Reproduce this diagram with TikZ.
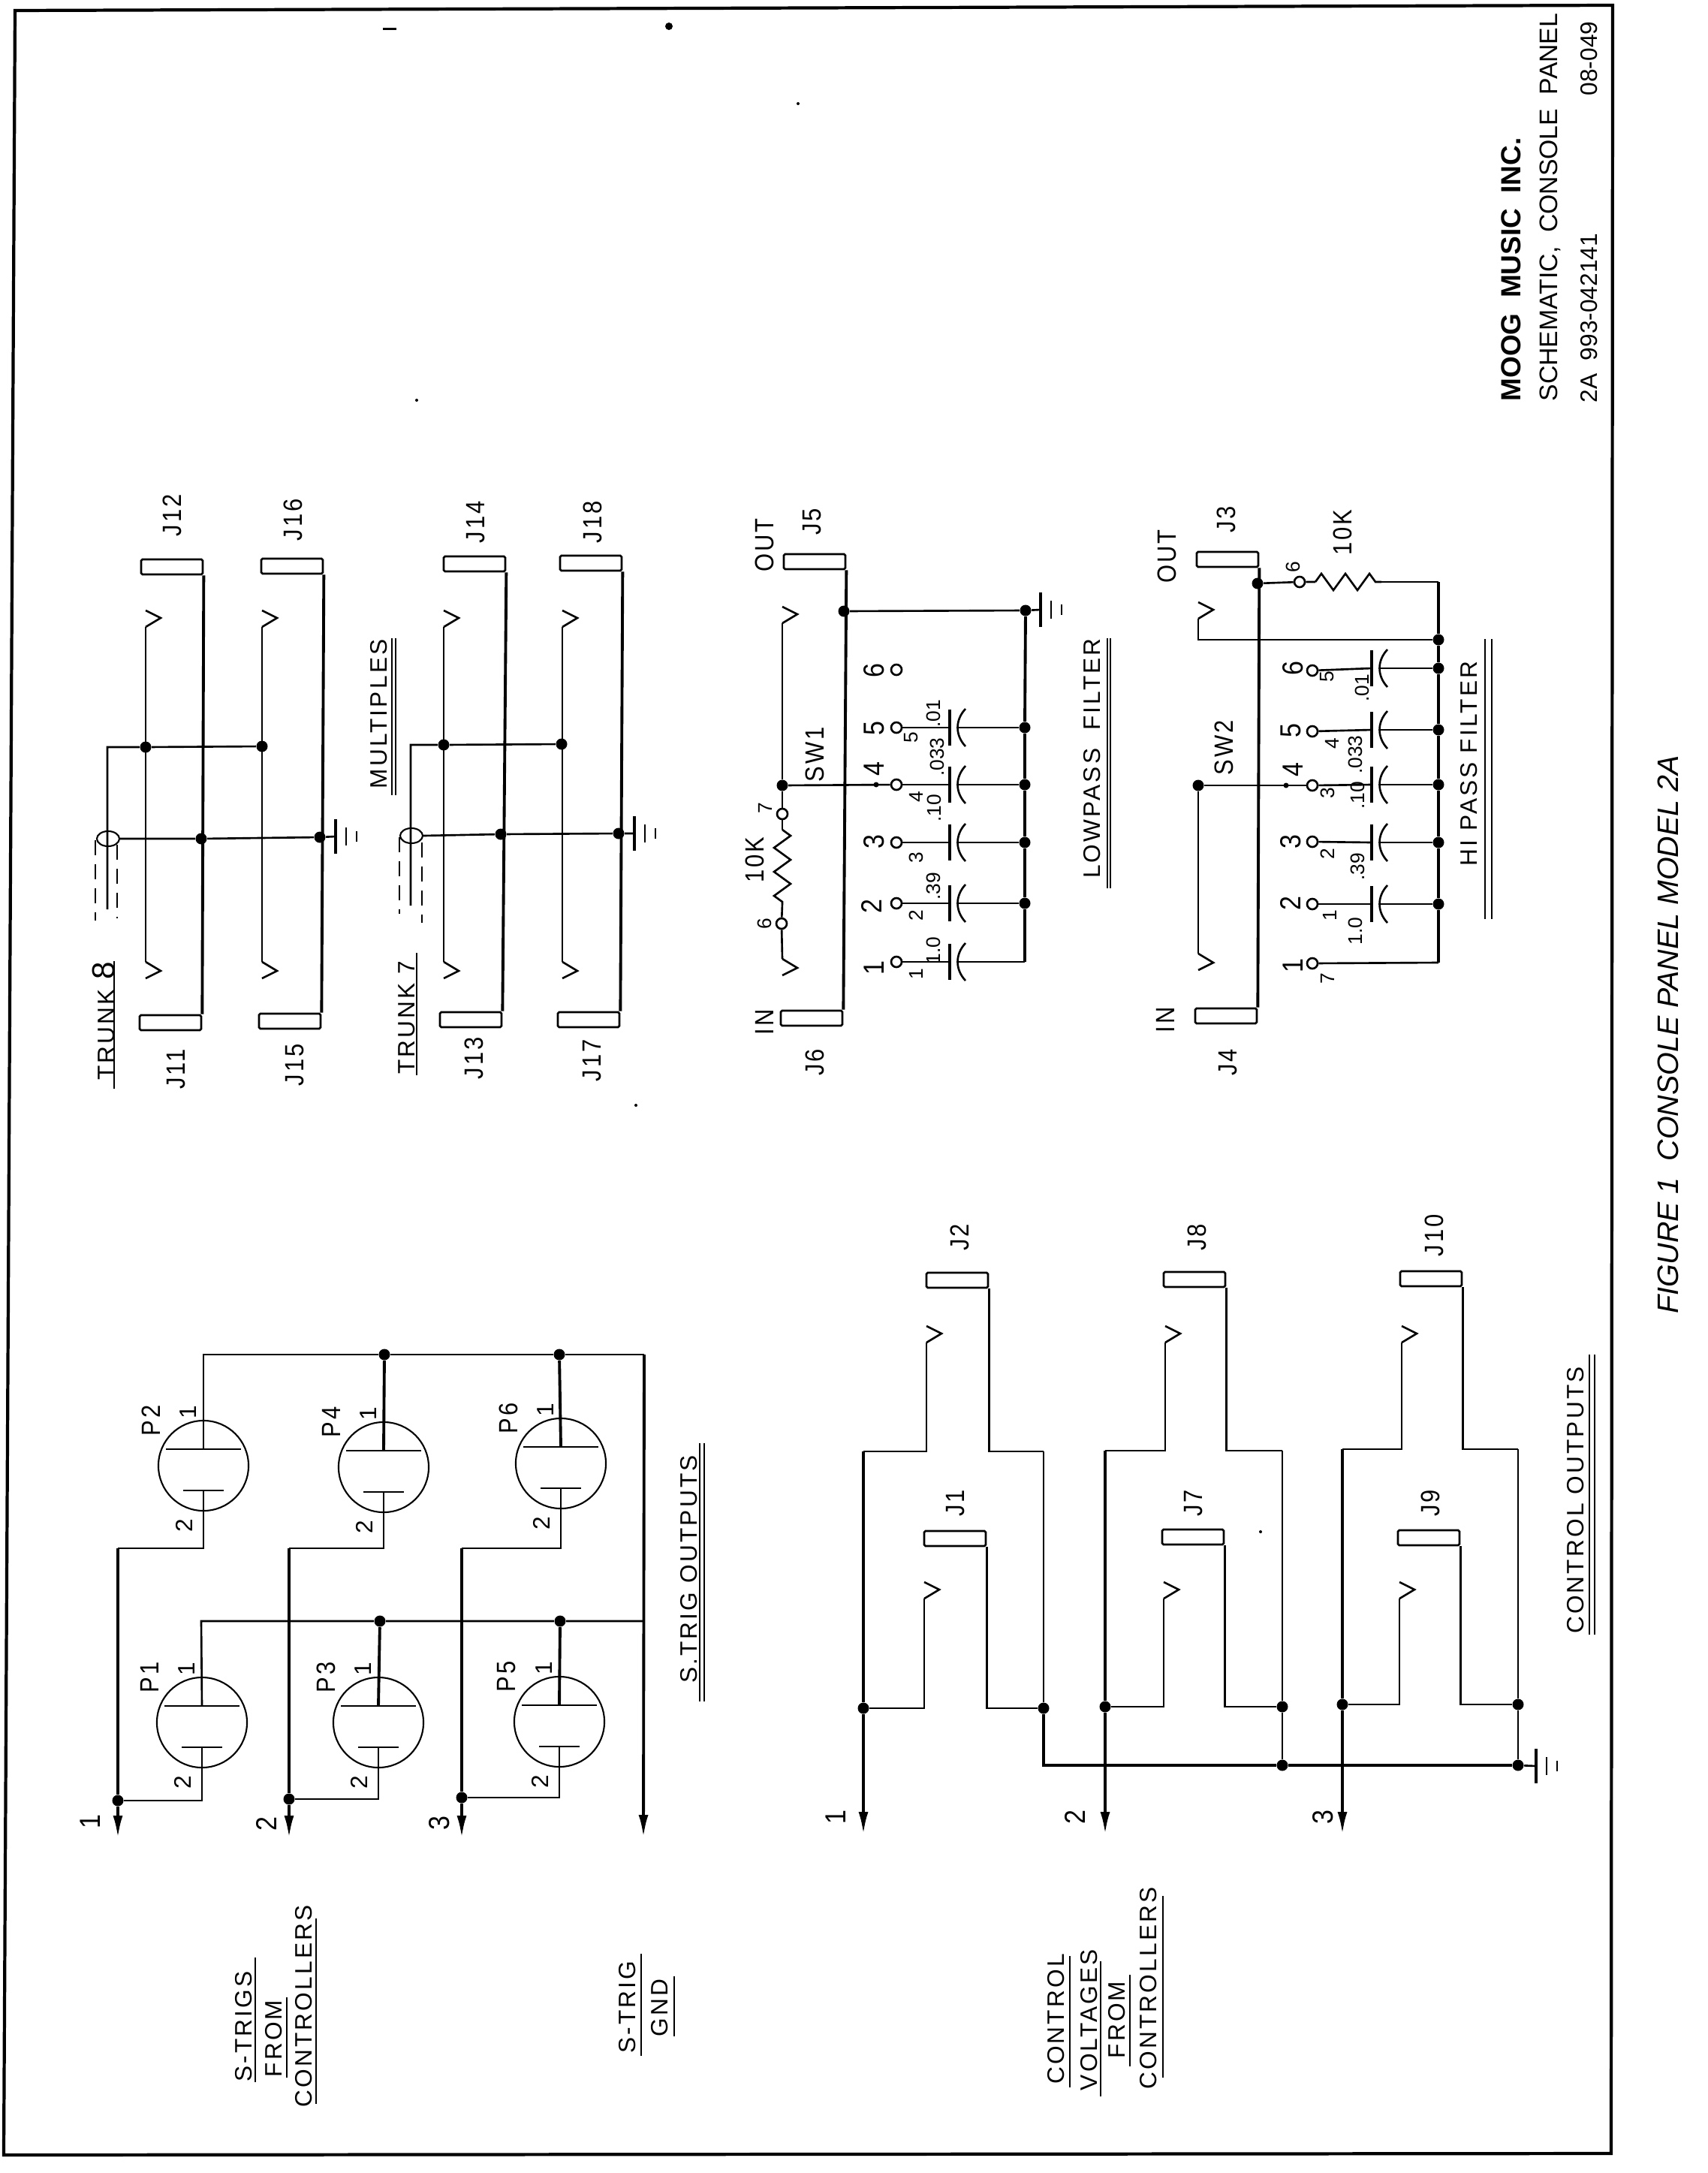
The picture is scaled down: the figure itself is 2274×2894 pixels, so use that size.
\documentclass[tikz,border=0pt]{standalone}
\usepackage{fontspec}
\setmainfont{Liberation Sans}
\newfontfamily\stencil[LetterSpace=10]{Liberation Sans}
\usetikzlibrary{arrows.meta,shapes.geometric,decorations.pathmorphing}

\tikzset{
	wire/.style={line width=0.75pt},
	bus/.style={line width=1.1pt},
	dot/.style={circle,fill=black,inner sep=0,minimum size=0.15cm},
	tinydot/.style={circle,fill=black,inner sep=0,minimum size=0.07cm},
	contact/.style={circle,draw,line width=0.75pt,fill=white,inner sep=0,minimum size=0.14cm},
	jackbox/.style={rectangle,draw,line width=0.75pt,inner sep=0,minimum width=0.82cm,minimum height=0.2cm,rounded corners=0.5pt},
	conn/.style={circle,draw,line width=0.6pt,inner sep=0,minimum size=1.2cm},
	cable/.style={ellipse,draw,line width=0.6pt,inner sep=0,minimum width=0.3cm,minimum height=0.2cm},
	lbl/.style={rotate=90,inner sep=0,font=\stencil\fontsize{10}{10}\selectfont,xscale=0.88},
	smalllbl/.style={rotate=90,inner sep=0,font=\fontsize{7.5}{8}\selectfont},
	heading/.style={rotate=90,inner sep=0,font=\stencil\fontsize{9}{10}\selectfont},
	arrowend/.style={-{Latex[length=0.3cm,width=0.13cm]}},
	resistor/.style={decorate,decoration={zigzag,amplitude=0.11cm,segment length=0.32cm}},
}

\newcommand{\gndsym}[1]{%
	\draw[bus] (#1) ++(0,-23) -- ++(0,46);
	\draw[wire] (#1) ++(14,-12) -- ++(0,24);
	\draw[wire] (#1) ++(28,-7) -- ++(0,14);
}
\newcommand{\capsym}[3]{%
	\coordinate (p#1) at (#2,#3);
	\coordinate (q#1) at (#2+10,#3);
	\draw[bus] (p#1) ++(0,-24) -- ++(0,48);
	\draw[wire] (#2+21,#3-25) .. controls (#2+7,#3-10) and (#2+7,#3+10) .. (#2+21,#3+25);
}
\newcommand{\tiptop}[1]{\draw[wire] (#1) -- ++(20,-12) -- ++(-20,-10);}
\newcommand{\tipbot}[1]{\draw[wire] (#1) -- ++(20,12) -- ++(-20,10);}

\begin{document}
\begin{tikzpicture}[x=0.01cm,y=-0.01cm]
	\useasboundingbox (0,0) rectangle (2274,2894);
	\draw[line width=1.2pt] (20,14) -- (2148,7) -- (2146,2868) -- (5,2870) -- cycle;

	% specks on the sheet
	\fill (510,37) rectangle (528,40);
	\fill (891,35) circle (5);
	\foreach \x/\y in {1063/138,555/533,847/1472,1679/2040}
		\fill (\x,\y) circle (2);

	% trunk jacks
	\foreach \name/\x/\y in {J12/229/755,J11/227/1362,J16/389/754,J15/386/1360,J14/632/751,J13/627/1358,J18/787/750,J17/784/1358}
		\node[jackbox] (\name) at (\x,\y) {};
	\draw[bus] (J12.south east) -- (J11.north east);
	\draw[bus] (J16.south east) -- (J15.north east);
	\draw[bus] (J14.south east) -- (J13.north east);
	\draw[bus] (J18.south east) -- (J17.north east);
	\foreach \n/\x in {a/194,b/349,c/591,d/749} {
		\coordinate (mt\n) at (\x,835);
		\coordinate (mb\n) at (\x,1281);
		\draw[wire] (mt\n) -- (mb\n);
		\tiptop{mt\n}
		\tipbot{mb\n}
	}
	\node[dot] (ma) at (194,995) {};
	\node[dot] (mb) at (349,994) {};
	\node[dot] (mc) at (591,992) {};
	\node[dot] (md) at (748,991) {};
	\node[dot] (sa) at (268,1117) {};
	\node[dot] (sb) at (426,1115) {};
	\node[dot] (sc) at (667,1111) {};
	\node[dot] (sd) at (824,1110) {};
	\node[cable] (tr8) at (144,1117) {};
	\node[cable] (tr7) at (548,1113) {};
	\coordinate (gnd8) at (447,1114);
	\coordinate (gnd7) at (845,1110);
	\gndsym{gnd8}
	\gndsym{gnd7}
	\draw[wire] (tr8.east) -- (sa) -- (sb) -- (gnd8);
	\draw[wire] (tr7.east) -- (sc) -- (sd) -- (gnd7);
	\coordinate (c8a) at (143,995);
	\coordinate (c8b) at (143,1211);
	\coordinate (c7a) at (547,992);
	\coordinate (c7b) at (547,1206);
	\draw[wire] (c8b) -- (c8a) -- (ma) -- (mb);
	\draw[wire] (c7b) -- (c7a) -- (mc) -- (md);
	\draw[wire,dashed,dash pattern=on 0.2cm off 0.12cm] (127,1119) -- (127,1226);
	\draw[wire,dashed,dash pattern=on 0.2cm off 0.12cm] (156,1125) -- (156,1223);
	\draw[wire,dashed,dash pattern=on 0.2cm off 0.12cm] (532,1115) -- (532,1217);
	\draw[wire,dashed,dash pattern=on 0.2cm off 0.12cm] (562,1122) -- (562,1229);

	% lowpass filter
	\node[jackbox] (J5) at (1085,748) {};
	\node[jackbox] (J6) at (1081,1356) {};
	\draw[bus] (J5.south east) -- (J6.north east);
	\node[dot] (lpo) at (1124,814) {};
	\node[dot] (lpg) at (1366,813) {};
	\coordinate (gndl) at (1386,812);
	\gndsym{gndl}
	\draw[wire] (lpo) -- (lpg) -- (gndl);
	\node[contact] (lc6) at (1194,892) {};
	\coordinate (lb1) at (1365,1281);
	\foreach \r/\y in {5/969,4/1045,3/1122,2/1203} {
		\node[dot] (lb\r) at (1365,\y) {};
	}
	\foreach \r/\y in {5/969,4/1045,3/1122,2/1203,1/1281} {
		\node[contact] (lc\r) at (1194,\y) {};
		\capsym{l\r}{1265}{\y}
		\draw[wire] (lc\r) -- (pl\r);
		\draw[wire] (ql\r) -- (lb\r);
	}
	\draw[bus] (lpg) -- (lb5) -- (lb4) -- (lb3) -- (lb2) -- (lb1);
	\node[dot] (sw1) at (1042,1046) {};
	\node[tinydot] (sd1) at (1167,1045) {};
	\coordinate (lt1) at (1042,830);
	\coordinate (lt2) at (1042,1277);
	\tiptop{lt1}
	\tipbot{lt2}
	\node[contact] (l7) at (1042,1084) {};
	\node[contact] (l6) at (1041,1230) {};
	\coordinate (lr1) at (1042,1105);
	\coordinate (lr2) at (1042,1203);
	\draw[wire] (lt1) -- (sw1) -- (l7) -- (lr1);
	\draw[wire,resistor] (lr1) -- (lr2);
	\draw[wire] (lr2) -- (l6) -- (lt2);
	\draw[wire] (sw1) -- (lc4);

	% hi pass filter
	\node[jackbox] (J3) at (1635,745) {};
	\node[jackbox] (J4) at (1633,1353) {};
	\draw[bus] (J3.south east) -- (J4.north east);
	\node[dot] (hpo) at (1675,777) {};
	\node[contact] (h6r) at (1731,775) {};
	\coordinate (hr1) at (1752,775);
	\coordinate (hr2) at (1840,775);
	\coordinate (hc) at (1916,775);
	\coordinate (hd) at (1916,1282);
	\draw[wire] (hpo) -- (h6r) -- (hr1);
	\draw[wire,resistor] (hr1) -- (hr2);
	\draw[wire] (hr2) -- (hc);
	\node[dot] (hb) at (1916,852) {};
	\coordinate (ht1) at (1596,824);
	\coordinate (ht2) at (1596,852);
	\tiptop{ht1}
	\draw[wire] (ht1) -- (ht2) -- (hb);
	\foreach \r/\y/\z in {6/893/890,5/974/972,4/1046/1045,3/1121/1122,2/1204/1204} {
		\node[contact] (hc\r) at (1748,\y) {};
		\node[dot] (hb\r) at (1916,\z) {};
		\capsym{h\r}{1827}{\z}
		\draw[wire] (hc\r) -- (ph\r);
		\draw[wire] (qh\r) -- (hb\r);
	}
	\node[contact] (hc1) at (1748,1283) {};
	\draw[wire] (hc1) -- (hd);
	\draw[bus] (hc) -- (hb) -- (hb6) -- (hb5) -- (hb4) -- (hb3) -- (hb2) -- (hd);
	\node[dot] (sw2) at (1596,1046) {};
	\node[tinydot] (sd2) at (1713,1046) {};
	\coordinate (ht3) at (1596,1270);
	\tipbot{ht3}
	\draw[wire] (sw2) -- (hc4);
	\draw[wire] (sw2) -- (ht3);

	% s-trig connectors
	\foreach \name/\cx/\cy in {P1/269/2294,P2/271/1952,P3/504/2294,P4/511/1954,P5/745/2293,P6/747/1949} {
		\node[conn] (\name) at (\cx,\cy) {};
		\draw[wire] (\cx-50,\cy-22) -- (\cx+50,\cy-22);
		\draw[wire] (\cx-27,\cy+33) -- (\cx+27,\cy+33);
		\coordinate (\name t) at (\cx,\cy-22);
		\coordinate (\name b) at (\cx,\cy+33);
		\node[smalllbl,font=\fontsize{9}{9}\selectfont] (\name one) at (\cx-20,\cy-71) {1};
		\node[smalllbl,font=\fontsize{9}{9}\selectfont] (\name two) at (\cx-26,\cy+80) {2};
		\node[lbl] (\name lab) at (\cx-70,\cy-60) {\name};
	}
	\node[dot] (n4) at (512,1804) {};
	\node[dot] (n6) at (745,1804) {};
	\node[dot] (n3) at (506,2159) {};
	\node[dot] (n5) at (746,2159) {};
	\coordinate (nu) at (271,1804);
	\coordinate (nv) at (268,2159);
	\coordinate (gt) at (858,1804);
	\coordinate (gm) at (857,2159);
	\coordinate (gb) at (857,2447);
	\draw[wire] (P2t) -- (nu) -- (n4) -- (n6) -- (gt);
	\draw[wire] (P1t) -- (nv) -- (n3) -- (n5) -- (gm);
	\draw[bus] (P4t) -- (n4);
	\draw[bus] (P6t) -- (n6);
	\draw[bus] (P3t) -- (n3);
	\draw[bus] (P5t) -- (n5);
	\draw[bus,arrowend] (gt) -- (gb);
	\foreach \n/\x/\y/\up/\lo in {1/157/2398/P2b/P1b,2/385/2396/P4b/P3b,3/615/2394/P6b/P5b} {
		\node[dot] (st\n) at (\x,\y) {};
		\coordinate (su\n) at (\x,2062);
		\coordinate (se\n) at (\x,2448);
		\draw[wire] (\up) |- (su\n);
		\draw[wire] (\lo) |- (st\n);
		\draw[bus] (su\n) -- (st\n);
		\draw[bus,arrowend] (st\n) -- (se\n);
	}

	% control outputs
	\foreach \n/\bx/\jupper/\ux/\uy/\jlower/\lx/\ly/\tu/\tl/\rx/\ju/\tp in {
		1/1150/J2/1275/1705/J1/1272/2049/1234/1231/1390/2275/1933,
		2/1472/J8/1591/1704/J7/1589/2047/1552/1550/1708/2273/1932,
		3/1788/J10/1906/1703/J9/1903/2048/1867/1864/2022/2270/1930} {
		\node[jackbox] (\jupper) at (\ux,\uy) {};
		\node[jackbox] (\jlower) at (\lx,\ly) {};
		\node[dot] (cv\n) at (\bx,\ju) {};
		\node[dot] (cg\n) at (\rx,\ju) {};
		\coordinate (ctop\n) at (\bx,\tp);
		\coordinate (cend\n) at (\bx,2443);
		\coordinate (cup\n) at (\tu,1788);
		\coordinate (clo\n) at (\tl,2129);
		\coordinate (crt\n) at (\rx,\tp);
		\draw[bus] (ctop\n) -- (cv\n);
		\draw[bus,arrowend] (cv\n) -- (cend\n);
		\draw[wire] (ctop\n) -| (cup\n);
		\draw[wire] (cv\n) -| (clo\n);
		\draw[wire] (\jupper.south east) |- (crt\n);
		\draw[wire] (\jlower.south east) |- (cg\n);
		\draw[wire] (crt\n) -- (cg\n);
		\tiptop{cup\n}
		\tiptop{clo\n}
	}
	\coordinate (gc) at (1390,2351);
	\node[dot] (gd) at (1708,2351) {};
	\node[dot] (ge) at (2022,2351) {};
	\coordinate (gndc) at (2046,2352);
	\gndsym{gndc}
	\draw[bus] (cg1) -- (gc) -- (gd) -- (ge);
	\draw[wire] (cg2) -- (gd);
	\draw[wire] (cg3) -- (ge);
	\draw[wire] (ge) -- (gndc);

	% labels
	\foreach \t/\x/\y [count=\i] in {J12/229/686,J16/390/692,J14/634/695,J18/789/695,J11/235/1424,J15/393/1418,J13/631/1409,J17/789/1412,
		J5/1082/695,J6/1085/1415,J3/1633/692,J4/1636/1415,OUT/1018/726,IN/1018/1361,OUT/1554/741,IN/1552/1358,SW1/1085/1005,SW2/1630/996,10K/1005/1145,10K/1788/709,
		J2/1278/1648,J8/1594/1648,J10/1910/1645,J1/1273/2002,J7/1590/2002,J9/1905/2002}
		\node[lbl] (lab\i) at (\x,\y) {\t};
	\foreach \t/\x/\y [count=\i] in {6/1164/893,5/1164/970,4/1164/1024,3/1164/1121,2/1161/1207,1/1164/1289,
		6/1722/890,5/1719/973,4/1722/1025,3/1719/1121,2/1719/1203,1/1722/1286,
		1/120/2426,2/355/2429,3/585/2428,1/1113/2420,2/1432/2420,3/1762/2420}
		\node[lbl,font=\fontsize{11}{11}\selectfont] (num\i) at (\x,\y) {\t};
	\foreach \t/\x/\y [count=\i] in {7/1019/1076,6/1018/1230,6/1722/755,5/1214/982,4/1220/1061,3/1220/1142,2/1220/1219,1/1220/1297,
		.01/1243/950,.033/1248/1008,.10/1244/1076,.39/1243/1180,1.0/1243/1266,
		5/1768/901,4/1774/990,3/1768/1056,2/1768/1137,1/1771/1219,7/1768/1303,
		.01/1814/916,.033/1805/1005,.10/1808/1059,.39/1808/1154,1.0/1805/1240}
		\node[smalllbl] (val\i) at (\x,\y) {\t};
	\foreach \t/\x/\y [count=\i] in {TRUNK {\fontsize{12}{12}\selectfont 8}/138/1360,TRUNK 7/542/1355,MULTIPLES/505/951,LOWPASS\ \ FILTER/1455/1010,HI PASS FILTER/1957/1017,
		S.TRIG OUTPUTS/918/2090,CONTROL OUTPUTS/2099/1998,S-TRIGS/325/2699,FROM/365/2715,CONTROLLERS/405/2672,S-TRIG/836/2673,GND/879/2674,
		CONTROL/1407/2689,VOLTAGES/1451/2690,FROM/1488/2690,CONTROLLERS/1530/2648}
		\node[heading] (head\i) at (\x,\y) {\t};

	% underlines
	\foreach \x/\a/\b in {152/1280/1450,555/1269/1432,522/850/1059,527/850/1059,1475/850/1183,1479/850/1183,1978/851/1224,1987/851/1224,
		932/1922/2266,938/1922/2266,2117/1804/2177,2124/1804/2177,340/2607/2773,382/2660/2767,421/2555/2802,854/2602/2738,898/2632/2712,
		1425/2605/2780,1466/2612/2792,1505/2630/2752,1549/2525/2767}
		\draw[wire] (\x,\a) -- (\x,\b);

	% title block
	\node[rotate=90,inner sep=0,anchor=west,font=\bfseries\fontsize{10.5}{11}\selectfont] (title1) at (2013,535) {MOOG\ \ MUSIC\ \ INC.};
	\node[rotate=90,inner sep=0,anchor=west,font=\fontsize{9.6}{10}\selectfont] (title2) at (2065,535) {SCHEMATIC,\ \ CONSOLE\ \ PANEL};
	\node[rotate=90,inner sep=0,anchor=west,font=\fontsize{9}{10}\selectfont] (title3) at (2117,537) {2A\ \ 993-042141};
	\node[rotate=90,inner sep=0,anchor=west,font=\fontsize{9}{10}\selectfont] (title4) at (2117,128) {08-049};
	\node[rotate=90,inner sep=0,font=\itshape\fontsize{11.2}{12}\selectfont] (figcap) at (2222,1378) {FIGURE 1 \ CONSOLE PANEL MODEL 2A};
\end{tikzpicture}
\end{document}
